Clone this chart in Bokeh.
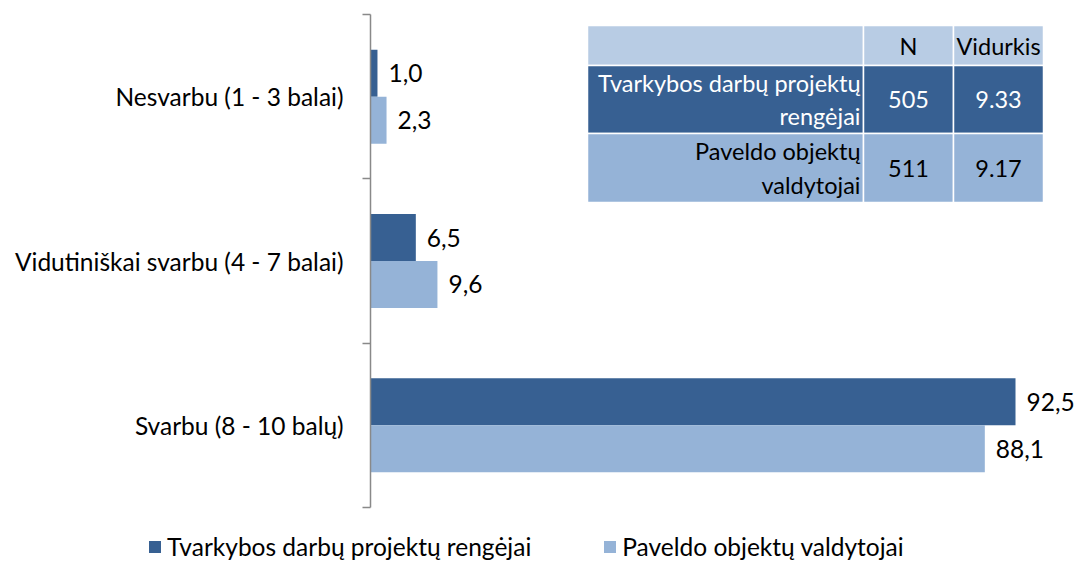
from bokeh.plotting import figure
from bokeh.models import (Range1d, FixedTicker, Legend, LegendItem, ColumnDataSource)
from bokeh.core.properties import value
from bokeh.embed import file_html
from bokeh.resources import INLINE

categories = ["Nesvarbu (1 - 3 balai)", "Vidutiniškai svarbu (4 - 7 balai)", "Svarbu (8 - 10 balų)"]
series_names = ["Tvarkybos darbų projektų rengėjai", "Paveldo objektų valdytojai"]
rengejai = [1.0, 6.5, 92.5]
valdytojai = [2.3, 9.6, 88.1]

table_header = ["", "N", "Vidurkis"]
table_groups = ["Tvarkybos darbų projektų\nrengėjai", "Paveldo objektų\nvaldytojai"]
table_n = [505, 511]
table_mean = [9.33, 9.17]

DARK = "#376092"
LIGHT = "#95b3d7"
HEAD = "#b8cce4"
FONT = "Lato"
FS = "24.5px"
TFS = "23.5px"

W, H = 1080, 560
axis_px, top_px, bot_px = 370, 14, 507          # axis position / category band limits (px)
n = len(categories)
kx = 645 / 92.5                                   # px per percent
ky = (bot_px - top_px) / n                        # px per category band

p = figure(width=W, height=H, output_backend="svg", toolbar_location=None,
           x_range=Range1d(-axis_px / kx, (W - axis_px) / kx),
           y_range=Range1d(-(H - bot_px) / ky, n + top_px / ky),
           x_axis_location=None,
           min_border_left=0, min_border_right=0, min_border_top=0, min_border_bottom=0)
p.grid.visible = False
p.outline_line_color = None

centers = [n - i - 0.5 for i in range(n)]
bh = 0.286
src = ColumnDataSource(dict(
    yd=[c + bh / 2 for c in centers], yl=[c - bh / 2 for c in centers],
    d=rengejai, l=valdytojai,
    dt=[f"{v:.1f}".replace(".", ",") for v in rengejai],
    lt=[f"{v:.1f}".replace(".", ",") for v in valdytojai],
))
r1 = p.hbar(y="yd", right="d", left=0, height=bh, source=src, color=DARK, line_color=None)
r2 = p.hbar(y="yl", right="l", left=0, height=bh, source=src, color=LIGHT, line_color=None)
p.text(x="d", y="yd", text="dt", source=src, x_offset=11, text_baseline="middle",
       text_font=value(FONT), text_font_size=FS, text_color="#000000")
p.text(x="l", y="yl", text="lt", source=src, x_offset=11, text_baseline="middle",
       text_font=value(FONT), text_font_size=FS, text_color="#000000")

ax = p.yaxis[0]
ax.fixed_location = 0
ax.bounds = (0, n)
ax.ticker = FixedTicker(ticks=centers, minor_ticks=list(range(n + 1)))
ax.major_label_overrides = {c: categories[i] for i, c in enumerate(centers)}
ax.major_tick_line_color = None
ax.minor_tick_out = 8
ax.minor_tick_in = 0
ax.minor_tick_line_color = "#898989"
ax.minor_tick_line_width = 1.5
ax.axis_line_color = "#898989"
ax.axis_line_width = 1.5
ax.major_label_standoff = 19
ax.major_label_text_font = FONT
ax.major_label_text_font_size = FS
ax.major_label_text_color = "#000000"

# table (picture pixel layout -> data coords)
def dx(px):
    return (px - axis_px) / kx

def dy(py):
    return n - (py - top_px) / ky

col_edges = [587, 863, 953, 1043]
row_edges = [25, 65, 133, 202]
row_fill = [HEAD, DARK, LIGHT]
txt_color = ["#000000", "#ffffff", "#000000"]
rows = [table_header] + [[g, str(nv), f"{m:.2f}"] for g, nv, m in zip(table_groups, table_n, table_mean)]
for ri in range(3):
    for ci in range(3):
        x0, x1 = dx(col_edges[ci]), dx(col_edges[ci + 1])
        y0, y1 = dy(row_edges[ri + 1]), dy(row_edges[ri])
        p.quad(left=x0, right=x1, bottom=y0, top=y1, fill_color=row_fill[ri],
               line_color="#ffffff", line_width=1.5)
        t = rows[ri][ci]
        if not t:
            continue
        if ci == 0:
            tx, align, xo = x1, "right", -3
        else:
            tx, align, xo = (x0 + x1) / 2, "center", 0
        p.text(x=[tx], y=[(y0 + y1) / 2], text=[t], text_align=align, x_offset=xo,
               text_baseline="middle", text_font=value(FONT), text_font_size=TFS,
               text_color=txt_color[ri], text_line_height=1.2)

legend = Legend(items=[LegendItem(label=series_names[0], renderers=[r1]),
                       LegendItem(label=series_names[1], renderers=[r2])],
                orientation="horizontal", location=(147, -1),
                glyph_width=15, glyph_height=15, label_standoff=5, spacing=71,
                padding=0, margin=0, border_line_alpha=0, background_fill_alpha=0,
                label_text_font=FONT, label_text_font_size=FS, label_text_color="#000000")
p.add_layout(legend)

open("out.html", "w").write(file_html(p, INLINE))
